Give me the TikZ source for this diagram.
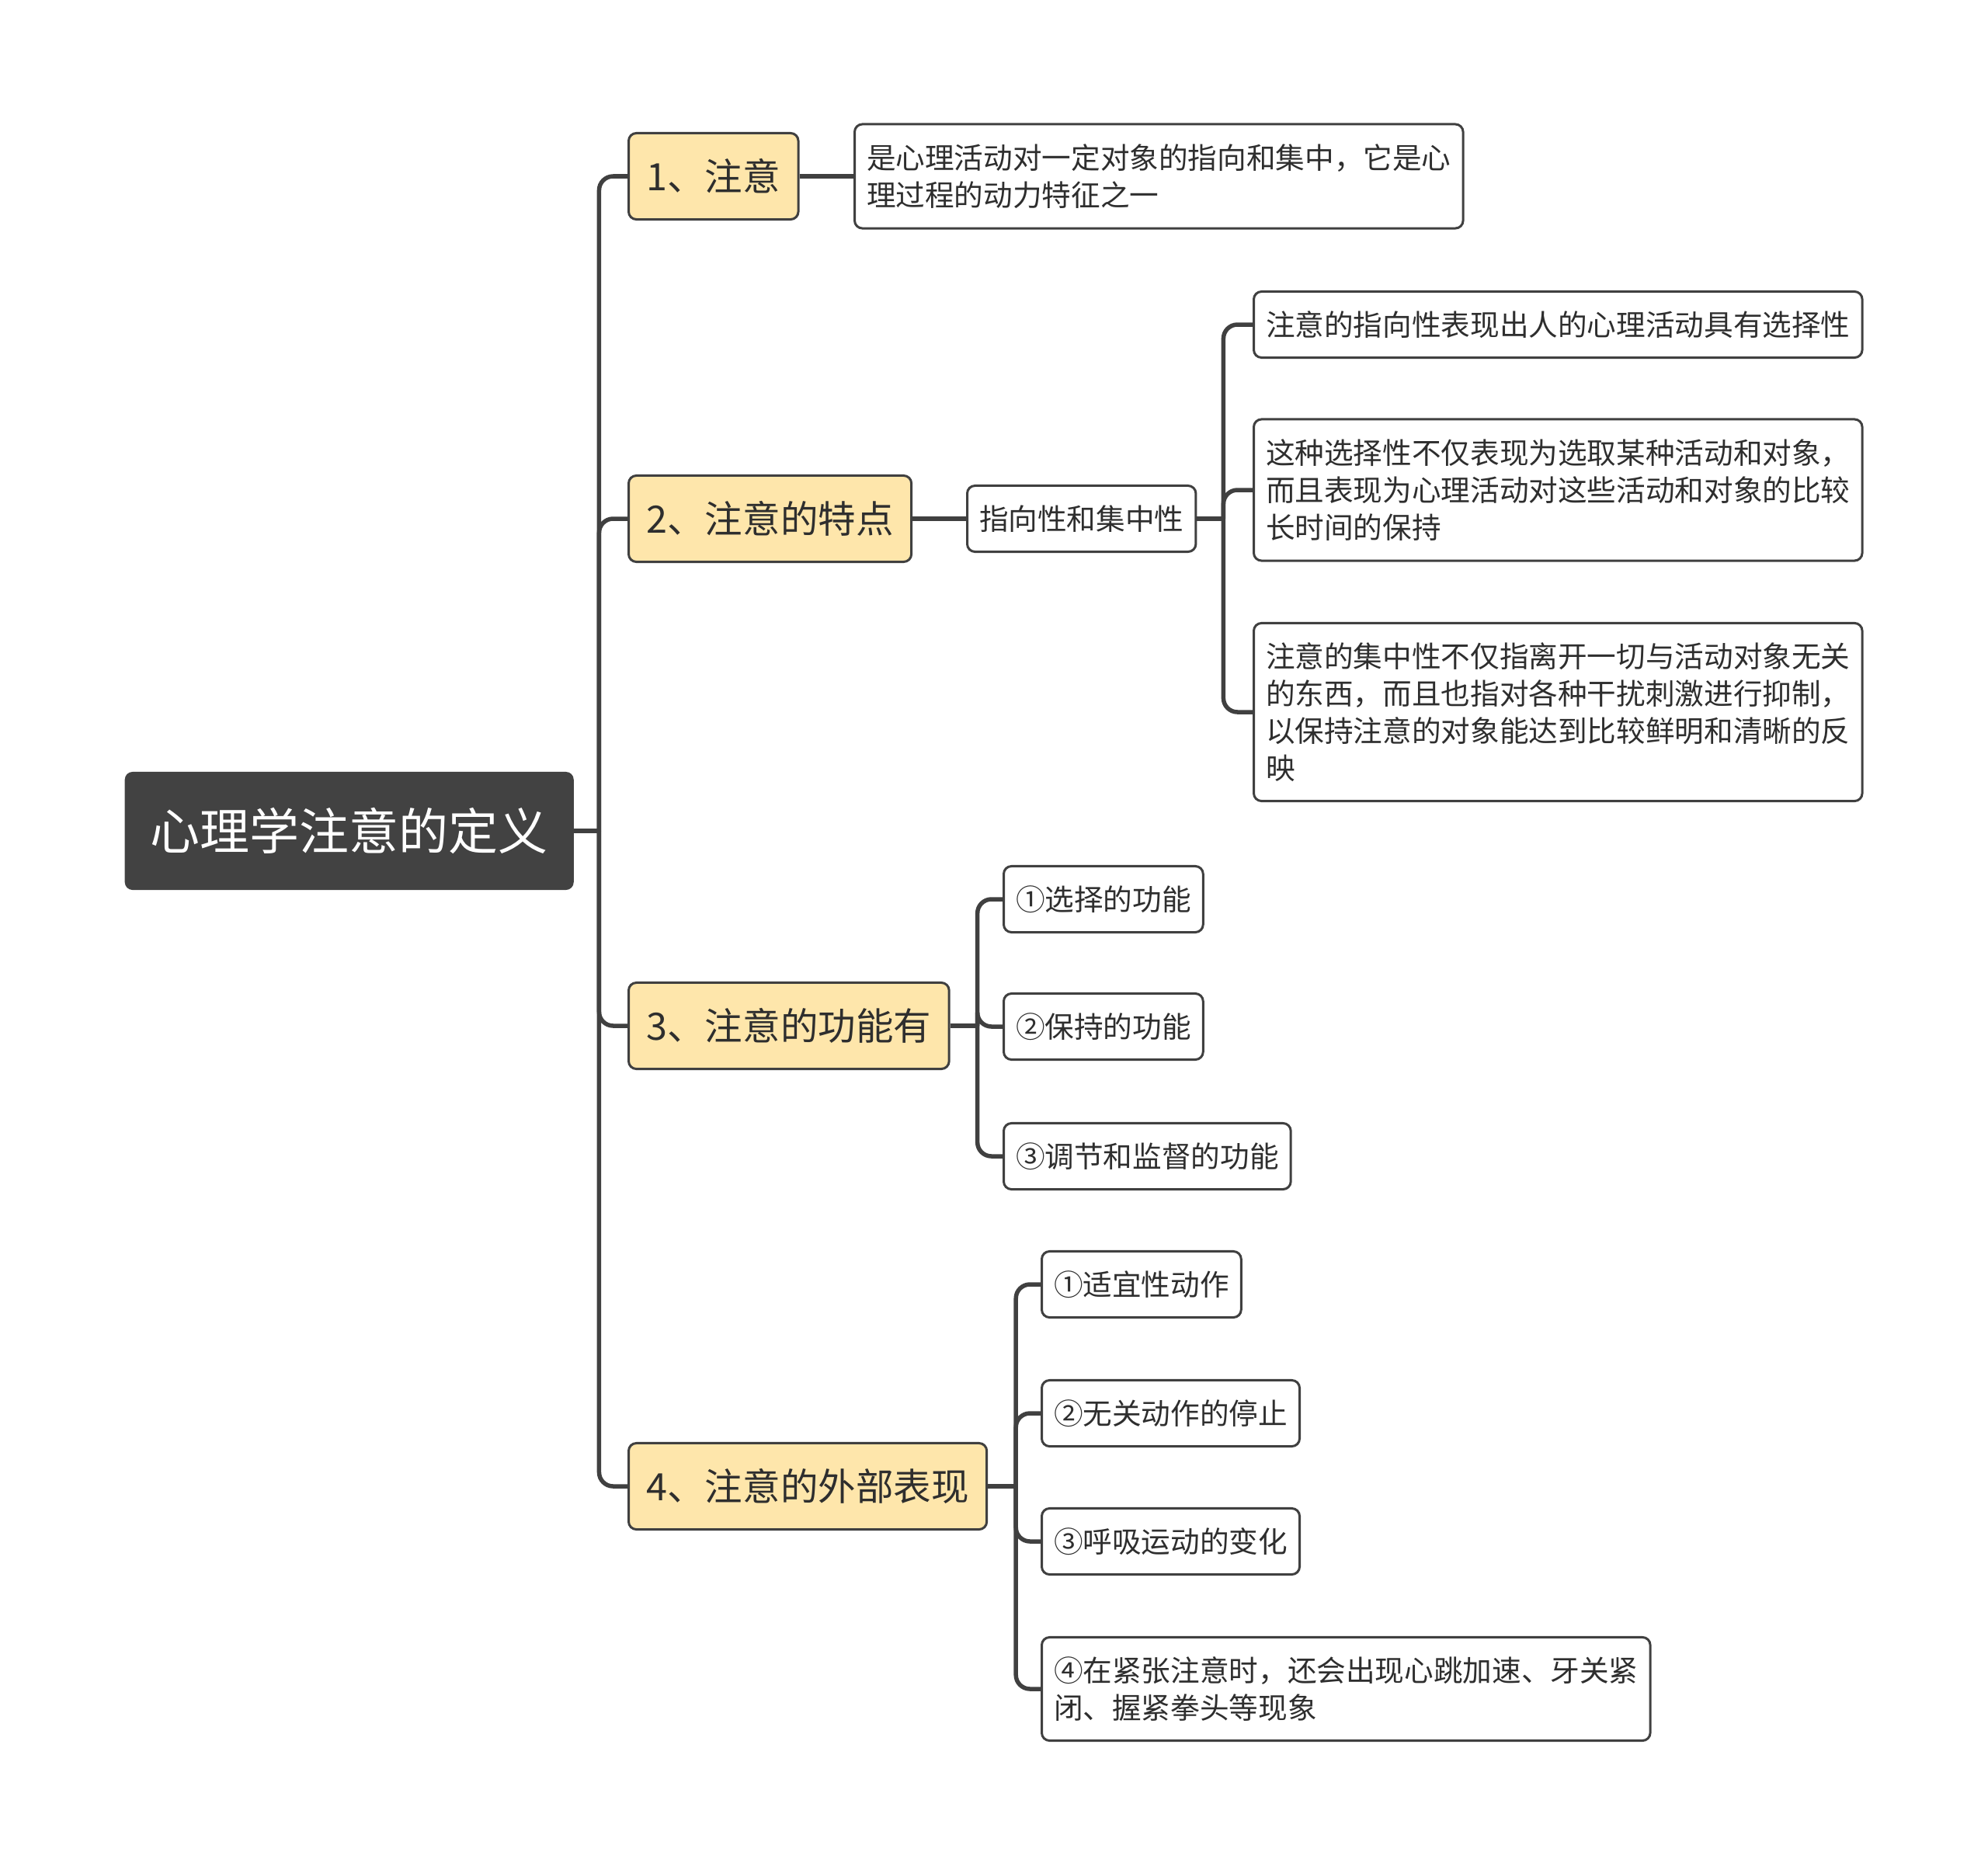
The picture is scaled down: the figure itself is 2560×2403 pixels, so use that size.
\documentclass[tikz,border=0pt]{standalone}
\usepackage{fontspec}
\newfontfamily\cjk{Noto Sans CJK SC}
\usetikzlibrary{calc}
\definecolor{linegray}{HTML}{404040}
\definecolor{rootgray}{HTML}{424242}
\definecolor{topicfill}{HTML}{FEE6AB}
\definecolor{txtgray}{HTML}{2E2E2E}
\begin{document}
\begin{tikzpicture}[x=0.01cm,y=-0.01cm,
		every node/.style={rounded corners=0.1cm,inner ysep=0.08cm,anchor=west},
		rootbox/.style={fill=rootgray,text=white,minimum height=1.52cm,inner xsep=0.33cm,
			font=\cjk\fontsize{18.2}{22}\selectfont},
		topicbox/.style={draw=linegray,line width=0.03cm,fill=topicfill,text=txtgray,
			minimum height=1.11cm,inner xsep=0.23cm,font=\cjk\fontsize{13.8}{17}\selectfont},
		leafbox/.style={draw=linegray,line width=0.03cm,fill=white,text=txtgray,
			minimum height=0.85cm,inner xsep=0.155cm,align=left,
			font=\cjk\fontsize{10.7}{13.6}\selectfont},
		link/.style={draw=linegray,line width=0.055cm,rounded corners=0.18cm}]
		\useasboundingbox (0,0) rectangle (2560,2403);
		\node[rootbox] (root) at (160,1070) {心理学注意的定义};
		\node[topicbox] (n1) at (808,227) {1、注意};
		\node[topicbox] (n2) at (808,668) {2、注意的特点};
		\node[topicbox] (n3) at (808,1321) {3、注意的功能有};
		\node[topicbox] (n4) at (808,1914) {4、注意的外部表现};
		\node[leafbox,minimum height=1.34cm] (d1) at (1099,227) {是心理活动对一定对象的指向和集中，它是心\\理过程的动力特征之一};
		\node[leafbox] (f2) at (1244,668) {指向性和集中性};
		\node[leafbox] (a1) at (1613,418) {注意的指向性表现出人的心理活动具有选择性};
		\node[leafbox,minimum height=1.82cm] (a2) at (1613,631) {这种选择性不仅表现为选取某种活动和对象，\\而且表现为心理活动对这些活动和对象的比较\\长时间的保持};
		\node[leafbox,minimum height=2.29cm] (a3) at (1613,917) {注意的集中性不仅指离开一切与活动对象无关\\的东西，而且也指对各种干扰刺激进行抑制，\\以保持注意的对象能达到比较鲜明和清晰的反\\映};
		\node[leafbox] (b1) at (1291,1158) {①选择的功能};
		\node[leafbox] (b2) at (1291,1322) {②保持的功能};
		\node[leafbox] (b3) at (1291,1489) {③调节和监督的功能};
		\node[leafbox] (c1) at (1340,1654) {①适宜性动作};
		\node[leafbox] (c2) at (1340,1820) {②无关动作的停止};
		\node[leafbox] (c3) at (1340,1985) {③呼吸运动的变化};
		\node[leafbox,minimum height=1.33cm] (c4) at (1340,2175) {④在紧张注意时，还会出现心跳加速、牙关紧\\闭、握紧拳头等现象};
		\coordinate (j0) at ($(root.east)+(32,0)$);
		\coordinate (j2) at ($(f2.east)+(34,0)$);
		\coordinate (j3) at ($(n3.east)+(35,0)$);
		\coordinate (j4) at ($(n4.east)+(36,0)$);
		\draw[link] (root.east) -- (j0);
		\foreach \t in {n1,n2,n3,n4} \draw[link] (j0) |- (\t.west);
		\draw[link] (n1.east) -- (d1.west);
		\draw[link] (n2.east) -- (f2.west);
		\draw[link] (f2.east) -- (j2);
		\foreach \t in {a1,a2,a3} \draw[link] (j2) |- (\t.west);
		\draw[link] (n3.east) -- (j3);
		\foreach \t in {b1,b2,b3} \draw[link] (j3) |- (\t.west);
		\draw[link] (n4.east) -- (j4);
		\foreach \t in {c1,c2,c3,c4} \draw[link] (j4) |- (\t.west);
	\end{tikzpicture}
\end{document}
